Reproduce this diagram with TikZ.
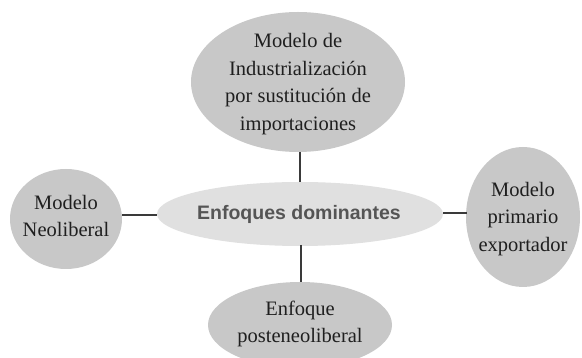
\documentclass[tikz,border=0pt]{standalone}
\usepackage{fontspec}
\setmainfont{Liberation Serif}
\setsansfont{Liberation Sans}
\usetikzlibrary{shapes.geometric}
\definecolor{bubble}{HTML}{C8C8C8}
\definecolor{core}{HTML}{E0E0E0}
\definecolor{coretext}{HTML}{555555}
\definecolor{link}{HTML}{3A3A3A}
\begin{document}
\begin{tikzpicture}[x=1pt,y=1pt,
  bubbletext/.style={font=\fontsize{20.5}{27.5}\selectfont, align=center, text=black!88},
  conn/.style={draw=link, line width=1.3pt}]
\useasboundingbox (0,0) rectangle (582,358);
\fill[white] (0,0) rectangle (582,358);
\begin{scope}
\clip (0,0) rectangle (582,358);
\fill[bubble] (298,276) ellipse [x radius=107, y radius=70];
\fill[core] (300,144) ellipse [x radius=143, y radius=32];
\fill[bubble] (66,139) ellipse [x radius=56, y radius=50];
\fill[bubble] (523,141) ellipse [x radius=57, y radius=70];
\fill[bubble] (300,33) ellipse [x radius=92, y radius=43];
\end{scope}
\coordinate (topB) at (300,206);
\coordinate (coreT) at (300,176);
\coordinate (coreB) at (301,113);
\coordinate (botT) at (301,76);
\coordinate (coreL) at (157,143);
\coordinate (leftR) at (122,143);
\coordinate (coreR) at (443,145);
\coordinate (rightL) at (467,145);
\draw[conn] (topB) -- (coreT);
\draw[conn] (coreB) -- (botT);
\draw[conn] (coreL) -- (leftR);
\draw[conn] (coreR) -- (rightL);
\node[bubbletext] (top) at (298,274) {Modelo de\\Industrialización\\por sustitución de\\importaciones};
\node[font=\sffamily\bfseries\fontsize{19.5}{23}\selectfont, text=coretext] (core) at (299,144) {Enfoques dominantes};
\node[bubbletext] (left) at (66,142) {Modelo\\Neoliberal};
\node[bubbletext] (right) at (523,139) {Modelo\\primario\\exportador};
\node[bubbletext] (bot) at (300,34) {Enfoque\\posteneoliberal};
\end{tikzpicture}
\end{document}
